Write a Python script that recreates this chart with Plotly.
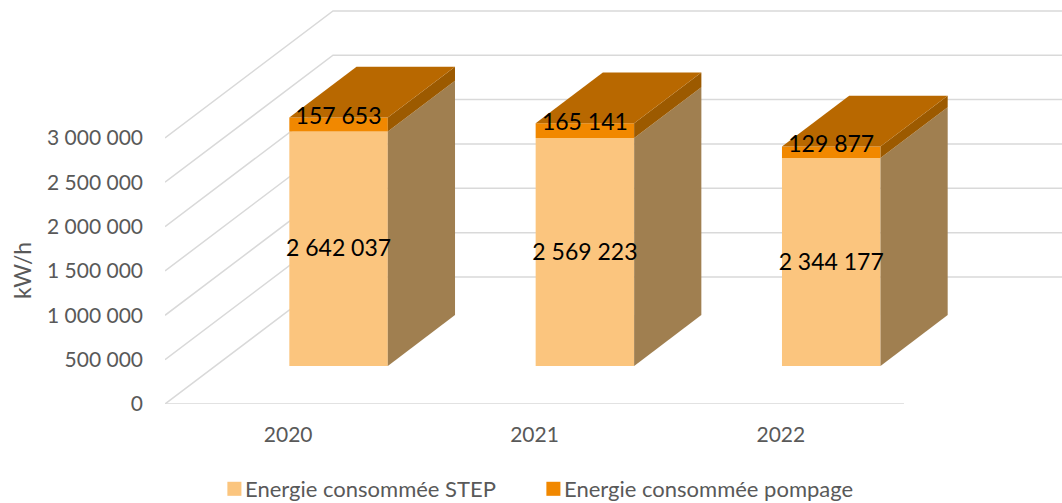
import plotly.graph_objects as go

# ---- data ----
years = ["2020", "2021", "2022"]
step = [2642037, 2569223, 2344177]
pompage = [157653, 165141, 129877]
step_labels = ["2 642 037", "2 569 223", "2 344 177"]
pompage_labels = ["157 653", "165 141", "129 877"]
tick_values = [0, 500000, 1000000, 1500000, 2000000, 2500000, 3000000]
tick_labels = ["0", "500 000", "1 000 000", "1 500 000", "2 000 000", "2 500 000", "3 000 000"]
series_names = ["Energie consommée STEP", "Energie consommée pompage"]

# ---- oblique projection (styling of the 3-D look) ----
W, H = 1062, 503
L, B = 165, 99                 # plot origin in the page
PX_CAT = 246.33                # pixels per category
PX_VAL = 88.7 / 1e6            # pixels per unit of value
DEPTH_X = 168 / PX_CAT         # full floor depth, x-units
DEPTH_Y = 127 / PX_VAL         # full floor depth, y-units
BAR_W = 98.5 / PX_CAT
D0, D1 = 0.30, 0.70            # bar's depth extent

X_RANGE = [-0.5, (W - L) / PX_CAT - 0.5]
Y_RANGE = [0, (H - B) / PX_VAL]

C_STEP, C_POMP = "#FBC57E", "#F18800"
C_TOP, C_SIDE_P, C_SIDE_S = "#B86800", "#9C5A00", "#A07F50"
C_GRID, C_TEXT = "#D9D9D9", "#595959"
FONT = "Lato, Carlito, Calibri, sans-serif"


def pr(x, y, d):
    return x + d * DEPTH_X, y + d * DEPTH_Y


fig = go.Figure()

# Wall / floor grid on the base subplot, below the bars
for v in tick_values:
    x0, y0 = pr(-0.5, v, 0)
    x1, y1 = pr(-0.5, v, 1)
    x2, y2 = pr(2.5, v, 1)
    fig.add_trace(go.Scatter(x=[x0, x1, x2], y=[y0, y1, y2], mode="lines",
                             line=dict(color=C_GRID, width=1.5), showlegend=False, hoverinfo="skip"))
fx0, fy0 = pr(-0.5, 0, 0)
fx1, fy1 = pr(2.5, 0, 0)
fig.add_trace(go.Scatter(x=[fx0, fx1], y=[fy0, fy1], mode="lines",
                         line=dict(color=C_GRID, width=1.5), showlegend=False, hoverinfo="skip"))

# Front faces: real bars, on the overlaying axes
front_x = [i + D0 * DEPTH_X for i in range(len(years))]
front_base = D0 * DEPTH_Y
fig.add_trace(go.Bar(x=front_x, y=step, base=[front_base] * 3, width=BAR_W, name=series_names[0],
                     marker=dict(color=C_STEP, line=dict(width=0)), xaxis="x2", yaxis="y2"))
fig.add_trace(go.Bar(x=front_x, y=pompage, base=[front_base + s for s in step], width=BAR_W, name=series_names[1],
                     marker=dict(color=C_POMP, line=dict(width=0)), xaxis="x2", yaxis="y2"))


def poly(points, color):
    xs = [p[0] for p in points]
    ys = [p[1] for p in points]
    fig.add_trace(go.Scatter(x=xs, y=ys, mode="lines", fill="toself", fillcolor=color,
                             line=dict(width=0, color=color), showlegend=False, hoverinfo="skip",
                             xaxis="x2", yaxis="y2"))


for i in range(len(years)):
    xr = i + BAR_W / 2
    xl = i - BAR_W / 2
    s, t = step[i], step[i] + pompage[i]
    # right side, lower and upper segment
    poly([pr(xr, 0, D0), pr(xr, 0, D1), pr(xr, s, D1), pr(xr, s, D0)], C_SIDE_S)
    poly([pr(xr, s, D0), pr(xr, s, D1), pr(xr, t, D1), pr(xr, t, D0)], C_SIDE_P)
    # top
    poly([pr(xl, t, D0), pr(xr, t, D0), pr(xr, t, D1), pr(xl, t, D1)], C_TOP)

# Data labels
LABEL_LOWER = 2 / PX_VAL
LABEL_RAISE = 6 / PX_VAL
fig.add_trace(go.Scatter(x=front_x, y=[front_base + s / 2 - LABEL_LOWER for s in step], mode="text", text=step_labels,
                         textfont=dict(family=FONT, size=23, color="#000000"), showlegend=False,
                         hoverinfo="skip", xaxis="x2", yaxis="y2", cliponaxis=False))
fig.add_trace(go.Scatter(x=front_x, y=[front_base + s + p / 2 + LABEL_RAISE for s, p in zip(step, pompage)],
                         mode="text", text=pompage_labels,
                         textfont=dict(family=FONT, size=23, color="#000000"), showlegend=False,
                         hoverinfo="skip", xaxis="x2", yaxis="y2", cliponaxis=False))

fig.update_layout(
    width=W, height=H,
    margin=dict(l=L, r=0, t=0, b=B, autoexpand=False),
    paper_bgcolor="white", plot_bgcolor="white",
    barmode="overlay",
    showlegend=True,
    legend=dict(orientation="h", x=205 / W, xref="container", xanchor="left",
                y=(H - 468) / H, yref="container", yanchor="top",
                entrywidth=274, entrywidthmode="pixels",
                font=dict(family=FONT, size=22, color=C_TEXT), traceorder="normal",
                bgcolor="rgba(0,0,0,0)"),
    xaxis=dict(range=X_RANGE, tickmode="array", tickvals=[0, 1, 2], ticktext=years, showgrid=False, zeroline=False,
               showline=False, ticks="", ticklabelstandoff=16, tickfont=dict(family=FONT, size=21, color=C_TEXT)),
    yaxis=dict(range=Y_RANGE, tickmode="array", tickvals=tick_values, ticktext=tick_labels, showgrid=False,
               zeroline=False, showline=False, ticks="", ticklabelstandoff=21,
               tickfont=dict(family=FONT, size=21, color=C_TEXT)),
    xaxis2=dict(range=X_RANGE, overlaying="x", visible=False, matches="x"),
    yaxis2=dict(range=Y_RANGE, overlaying="y", visible=False, matches="y"),
    annotations=[dict(text="kW/h", xref="paper", yref="paper", x=(22 - L) / (W - L), y=(H - B - 271) / (H - B),
                      xanchor="center", yanchor="middle", textangle=-90, showarrow=False,
                      font=dict(family=FONT, size=23, color=C_TEXT))],
)

POST = """
document.body.style.margin = '0';
document.querySelectorAll('.legend .legendsymbols').forEach(function (el) {
  el.setAttribute('transform', (el.getAttribute('transform') || '') + ' translate(6,0) scale(1.17)');
});
document.querySelectorAll('.legend .scrollbox, .legend .groups, .legend .traces').forEach(function (el) {
  el.removeAttribute('clip-path');
  el.style.clipPath = 'none';
});
"""
fig.write_html("out.html", post_script=POST, config={"displayModeBar": False})
